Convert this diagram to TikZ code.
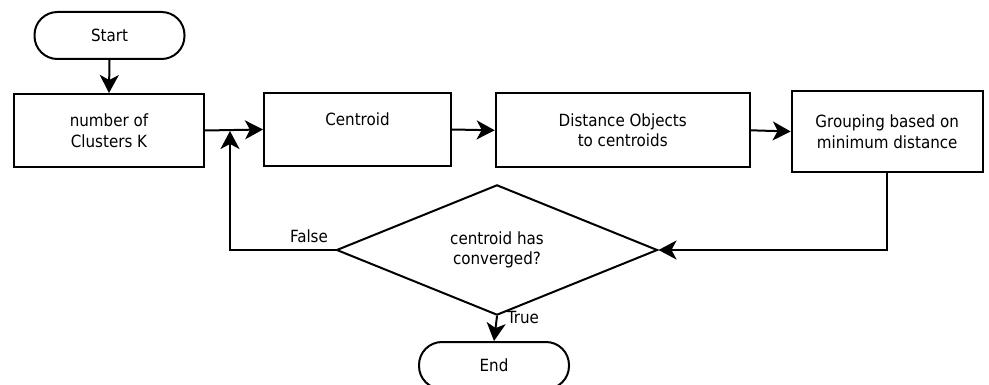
\documentclass[tikz,border=0pt]{standalone}
\usepackage{fontspec}
\setmainfont{DejaVu Sans Condensed}
\usetikzlibrary{arrows.meta,shapes.geometric}
\begin{document}
\begin{tikzpicture}[x=1pt,y=-1pt,
  every node/.style={font=\fontsize{16.8}{20.5}\selectfont},
  box/.style={draw,line width=2pt,rectangle,inner sep=0pt,align=center},
  terminal/.style={draw,line width=2pt,rectangle,rounded corners=23pt,
    minimum width=150pt,minimum height=47pt,inner sep=0pt},
  decision/.style={draw,line width=2pt,diamond,inner sep=0pt,align=center,
    minimum width=321pt,minimum height=100pt},
  flow/.style={line width=2pt,-{Stealth[length=18pt,width=19pt,inset=5pt]}},
  wire/.style={line width=2pt}]
\clip (0,0) rectangle (989,385);
\useasboundingbox (0,0) rectangle (989,385);

% terminals
\node[terminal] (start) at (109.5,35.5) {Start};
\node[terminal] (end) at (494,365.5) {End};

% process steps
\node[box,minimum width=190pt,minimum height=73pt] (k) at (109,130.5)
  {number of\\Clusters K};
\node[box,minimum width=187pt,minimum height=73pt] (cen) at (357.5,129.5) {};
\node (cenlabel) at ([yshift=10pt]cen.center) {Centroid};
\node[box,minimum width=254pt,minimum height=74pt] (dist) at (622.7,130.3)
  {Distance Objects\\to centroids};
\node[box,minimum width=191pt,minimum height=81pt] (grp) at (887.2,131.5)
  {Grouping based on\\minimum distance};

% convergence test
\node[decision] (dec) at (497,250) {centroid has\\converged?};

% loop-back points
\coordinate (corner) at (230,250);
\coordinate (join) at (230,131);

% connectors
\draw[flow] (start.south) -- (k.north);
\draw[flow] (k.east) -- (cen.west);
\draw[flow] (cen.east) -- (dist.west);
\draw[flow] (dist.east) -- (grp.west);
\draw[flow] (grp.south) |- (dec.east);
\draw[flow] (dec.west) -- (corner) -- (join);
\draw[flow] (dec.south) -- (end.north);

% branch labels
\node (false) at (309,236) {False};
\node (true) at (523,317) {True};
\end{tikzpicture}
\end{document}
